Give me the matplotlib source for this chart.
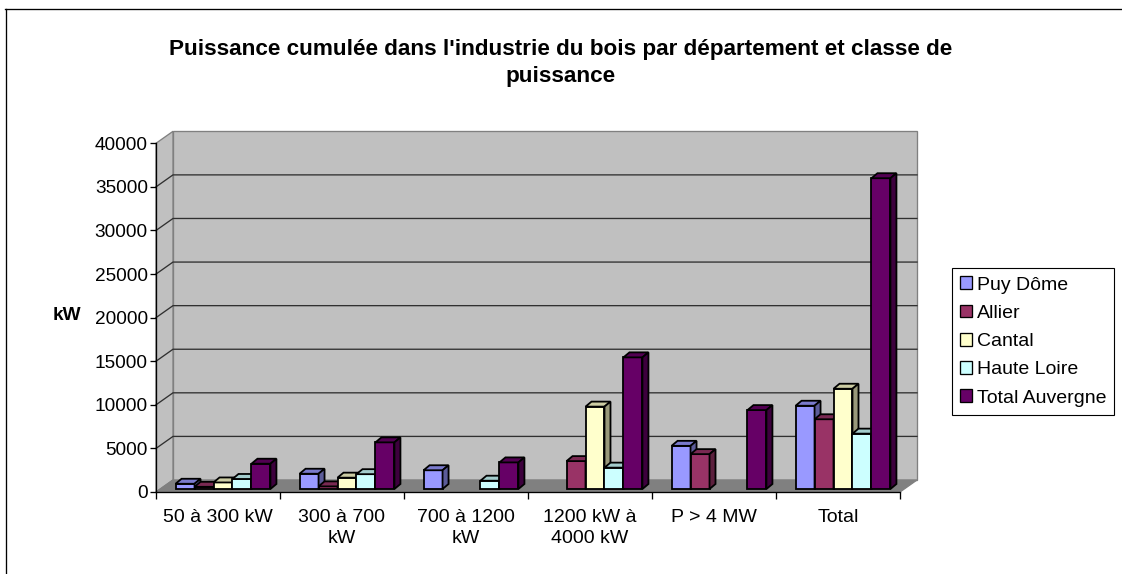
import numpy as np
import matplotlib
matplotlib.use("Agg")
import matplotlib.pyplot as plt
from matplotlib.patches import Polygon, Patch
from matplotlib.lines import Line2D
from matplotlib.transforms import IdentityTransform, ScaledTranslation

# --- data (kW) ---
categories = ['50 à 300 kW', '300 à 700\nkW', '700 à 1200\nkW',
              '1200 kW à\n4000 kW', 'P > 4 MW', 'Total']
series_names = ['Puy Dôme', 'Allier', 'Cantal', 'Haute Loire', 'Total Auvergne']
puy_dome = [600, 1750, 2150, 0, 4950, 9550]
allier = [250, 300, 0, 3200, 4000, 8000]
cantal = [750, 1300, 0, 9450, 0, 11500]
haute_loire = [1150, 1700, 950, 2450, 0, 6350]
total_auvergne = [2900, 5350, 3050, 15100, 9050, 35650]
y_ticks = [0, 5000, 10000, 15000, 20000, 25000, 30000, 35000, 40000]

series = [puy_dome, allier, cantal, haute_loire, total_auvergne]
colors = ['#9999FF', '#993366', '#FFFFCC', '#CCFFFF', '#660066']

plt.rcParams['font.family'] = ['Liberation Sans', 'DejaVu Sans']

DPI = 100
W, H = 1122, 574
fig = plt.figure(figsize=(W / DPI, H / DPI), dpi=DPI)
ax = fig.add_axes([156 / W, 82 / H, 744 / W, 348.7 / H])
ax.set_xlim(-0.5, len(categories) - 0.5)
ax.set_ylim(0, y_ticks[-1])
ax.set_autoscale_on(False)
ax.patch.set_visible(False)

# 3D offsets in pixels
WALL = np.array([17.0, 12.0])
BASE = np.array([5.0, 3.0])
DEPTH = np.array([6.0, 5.0])
LW = 0.95
BAR_LW = 1.3


def px(x, y):
    return ax.transData.transform((x, y))


def poly(pts, fc, ec, lw, z):
    ax.add_patch(Polygon(pts, closed=True, facecolor=fc, edgecolor=ec,
                         linewidth=lw, transform=IdentityTransform(),
                         clip_on=False, zorder=z))


def shade(c, f):
    r, g, b = matplotlib.colors.to_rgb(c)
    return (r * f, g * f, b * f)


x0, x1 = ax.get_xlim()
ytop = y_ticks[-1]

# walls and floor
poly([px(x0, 0) + WALL, px(x1, 0) + WALL, px(x1, ytop) + WALL, px(x0, ytop) + WALL],
     '#C0C0C0', '#808080', LW, 0.5)
poly([px(x0, 0), px(x0, 0) + WALL, px(x0, ytop) + WALL, px(x0, ytop)],
     '#C0C0C0', '#808080', LW, 0.6)
poly([px(x0, 0), px(x1, 0), px(x1, 0) + WALL, px(x0, 0) + WALL],
     '#808080', '#808080', LW, 0.7)

# gridlines on the walls
for v in y_ticks[1:-1]:
    a, b = px(x0, v), px(x1, v)
    ax.add_line(Line2D([a[0], a[0] + WALL[0], b[0] + WALL[0]],
                       [a[1], a[1] + WALL[1], b[1] + WALL[1]],
                       color='#303030', linewidth=LW,
                       transform=IdentityTransform(), clip_on=False, zorder=0.8))

# bars
bw = 0.153
bar_tr = ax.transData + ScaledTranslation(BASE[0] / DPI, BASE[1] / DPI,
                                          fig.dpi_scale_trans)
for i in range(len(categories)):
    for j, vals in enumerate(series):
        v = vals[i]
        if v <= 0:
            continue
        xl = i + (j - 2.5) * bw
        z = 3 + j * 0.1
        ax.bar(xl, v, bw, align='edge', color=colors[j], edgecolor='black',
               linewidth=BAR_LW, transform=bar_tr, zorder=z)
        fl = px(xl, v) + BASE
        fr = px(xl + bw, v) + BASE
        br = px(xl + bw, 0) + BASE
        poly([fl, fr, fr + DEPTH, fl + DEPTH], shade(colors[j], 0.8), 'black', BAR_LW, z)
        poly([fr, br, br + DEPTH, fr + DEPTH], shade(colors[j], 0.6), 'black', BAR_LW, z)

# axes
for s in ['top', 'right']:
    ax.spines[s].set_visible(False)
for s in ['left', 'bottom']:
    ax.spines[s].set_color('black')
    ax.spines[s].set_linewidth(LW)

ax.set_yticks(y_ticks)
ax.tick_params(axis='y', length=4.3, width=LW, pad=1.5, labelsize=13.7)
ax.set_xticks(np.arange(x0, x1 + 0.01, 1.0))
ax.set_xticklabels([''] * len(ax.get_xticks()))
ax.tick_params(axis='x', which='major', length=5, width=LW)
ax.set_xticks(range(len(categories)), minor=True)
ax.set_xticklabels(categories, minor=True, linespacing=1.35)
ax.tick_params(axis='x', which='minor', length=0, pad=12, labelsize=14)

fig.text(67 / W, 1 - 316 / H, 'kW', ha='center', va='center',
         fontsize=13.7, fontweight='bold')

fig.text(0.5, 1 - 39 / H,
         "Puissance cumulée dans l'industrie du bois par département et classe de\npuissance",
         ha='center', va='top', fontsize=16.2, fontweight='bold', linespacing=1.36)

handles = [Patch(facecolor=c, edgecolor='black', linewidth=LW) for c in colors]
leg = fig.legend(handles, series_names, loc='upper left',
                 bbox_to_anchor=(951.7 / W, 1 - 268.3 / H), frameon=True,
                 fancybox=False, edgecolor='black', framealpha=1, fontsize=14,
                 handlelength=0.62, handleheight=0.62, handletextpad=0.25,
                 labelspacing=0.57, borderpad=0.42, borderaxespad=0)
leg.get_frame().set_linewidth(0.8)

# outer chart border (top and left only visible)
fig.add_artist(Line2D([5 / W, 1], [1 - 9 / H, 1 - 9 / H], color='black', linewidth=LW))
fig.add_artist(Line2D([6 / W, 6 / W], [1 - 9 / H, 0], color='black', linewidth=LW))

fig.savefig('out.png', dpi=DPI)
